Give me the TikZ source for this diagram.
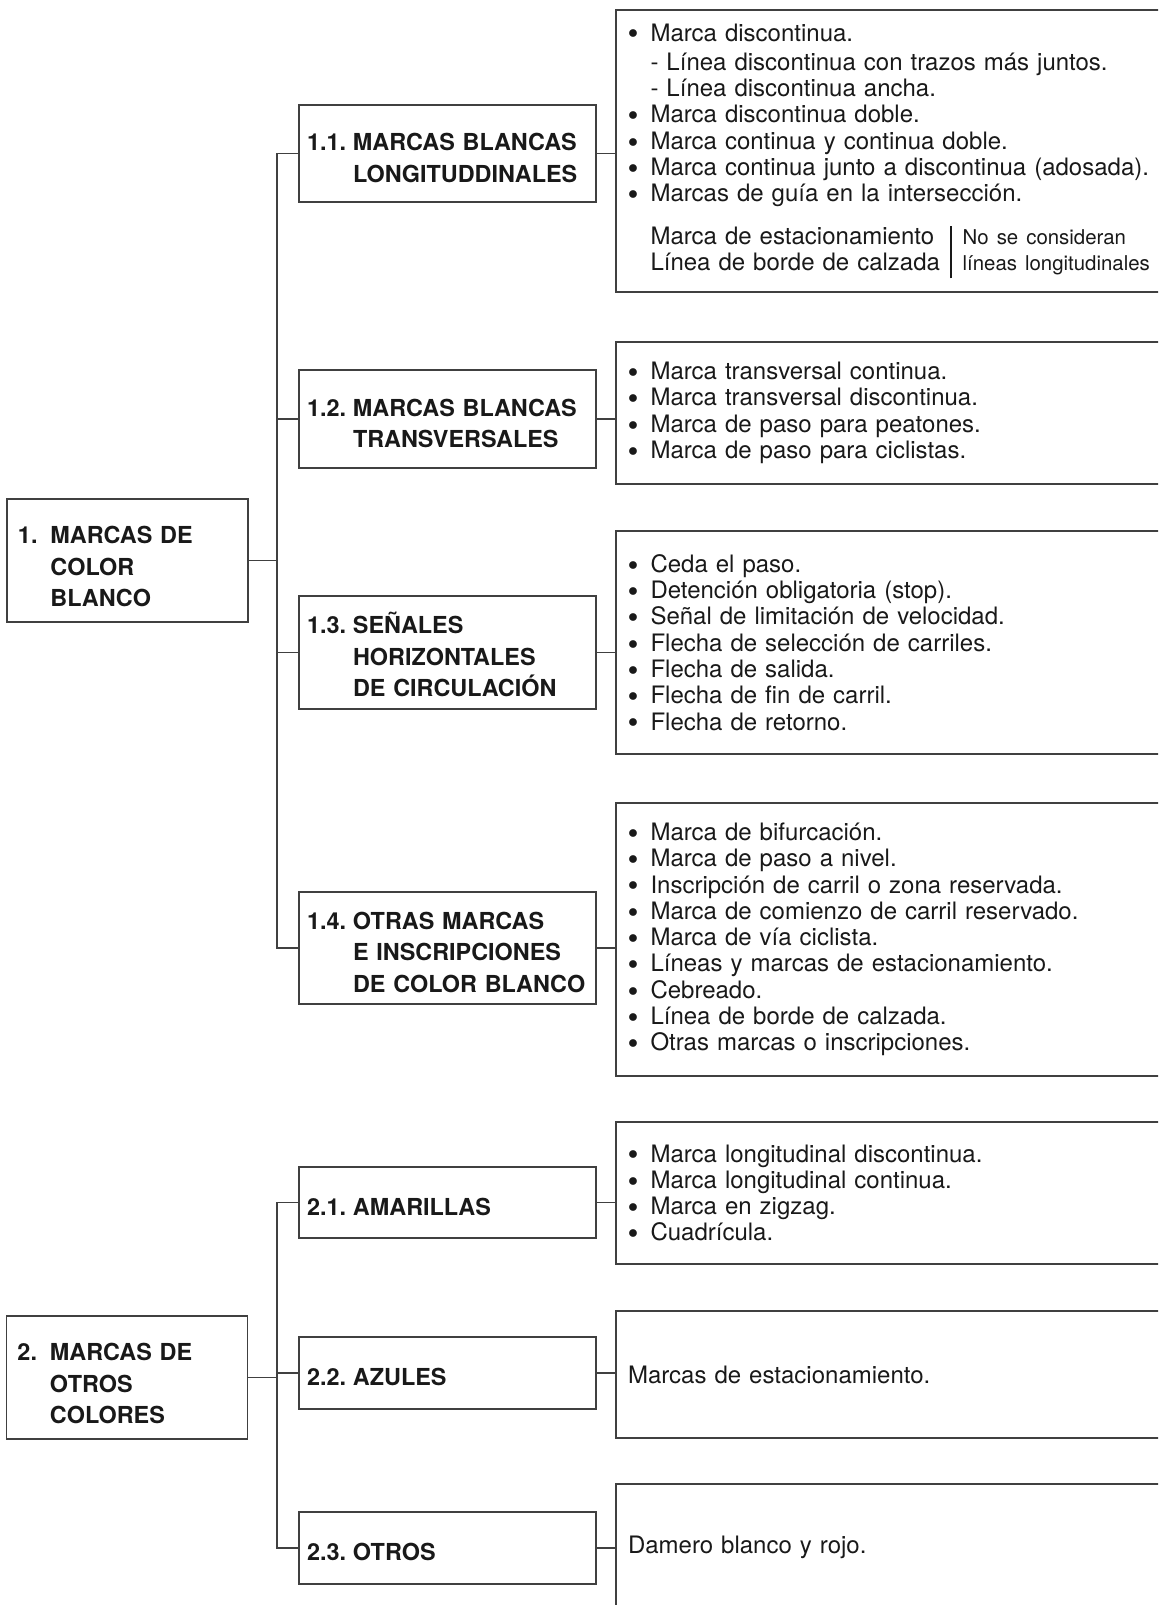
\documentclass[tikz,border=0pt]{standalone}
\usepackage{fontspec}
\setmainfont{TeX Gyre Heros}
\setlength{\arrayrulewidth}{0.7pt}
\newcommand{\hnum}[2]{\makebox[#1][l]{#2}}
\newcommand{\bul}{\makebox[11.25pt][l]{\raisebox{1.1pt}{\fontsize{10}{10}\selectfont$\bullet$}}}
\newcommand{\subind}{\hspace*{11.25pt}}
\newcommand{\smallnote}{\fontsize{10.2}{13.15}\selectfont}

\begin{document}
\begin{tikzpicture}[x=0.5pt, y=-0.5pt,
        basic/.style   = {draw=black!75, line width=0.6pt, rectangle, align=left, text=black!90, inner ysep=0pt},
        root/.style    = {basic, font=\bfseries\fontsize{11.7}{15.75}\selectfont, minimum width=120.5pt, text width=109.5pt, inner xsep=5.5pt,
                          execute at begin node={\rule{0pt}{15pt}}},
        level 2/.style = {basic, font=\bfseries\fontsize{11.7}{15.75}\selectfont, minimum width=148.5pt, text width=140.5pt, inner xsep=4pt,
                          execute at begin node={\rule{0pt}{13pt}}},
        level 3/.style = {basic, font=\fontsize{12}{13.15}\selectfont, minimum width=277pt, text width=265pt, inner xsep=6pt},
        link/.style    = {draw=black!75, line width=0.6pt}]

    \useasboundingbox (0,0) rectangle (1158,1605);
    \clip (0,0) rectangle (1158,1605);

    % roots
    \node[root, minimum height=61.5pt] (c1) at (127.5,560.5)
        {\hnum{16.25pt}{1.}MARCAS DE\\\hspace*{16.25pt}COLOR\\\hspace*{16.25pt}BLANCO};
    \node[root, minimum height=61.5pt] (c2) at (127,1377.5)
        {\hnum{16.25pt}{2.}MARCAS DE\\\hspace*{16.25pt}OTROS\\\hspace*{16.25pt}COLORES};

    % second level, white marks
    \node[level 2, minimum height=48.5pt] (c11) at (447.5,153.5)
        {\hnum{23pt}{1.1.}MARCAS BLANCAS\\\hspace*{23pt}LONGITUDDINALES};
    \node[level 2, minimum height=49pt] (c12) at (447.5,419)
        {\hnum{23pt}{1.2.}MARCAS BLANCAS\\\hspace*{23pt}TRANSVERSALES};
    \node[level 2, minimum height=56.5pt] (c13) at (447.5,652.5)
        {\hnum{23pt}{1.3.}SEÑALES\\\hspace*{23pt}HORIZONTALES\\\hspace*{23pt}DE CIRCULACIÓN};
    \node[level 2, minimum height=56pt] (c14) at (447.5,948)
        {\hnum{23pt}{1.4.}OTRAS MARCAS\\\hspace*{23pt}E INSCRIPCIONES\\\hspace*{23pt}DE COLOR BLANCO};

    % second level, other colours
    \node[level 2, minimum height=35.5pt, line width=1.2pt] (c21) at (447.5,1202.5) {\hnum{23pt}{2.1.}AMARILLAS};
    \node[level 2, minimum height=36pt] (c22) at (447.5,1373) {\hnum{23pt}{2.2.}AZULES};
    \node[level 2, minimum height=36pt] (c23) at (447.5,1548) {\hnum{23pt}{2.3.}OTROS};

    % third level, the lists
    \node[level 3, minimum height=141pt] (r11) at (893,151)
        {\bul Marca discontinua.\\[1.5pt]
         \subind- Línea discontinua con trazos más juntos.\\
         \subind- Línea discontinua ancha.\\
         \bul Marca discontinua doble.\\
         \bul Marca continua y continua doble.\\
         \bul Marca continua junto a discontinua (adosada).\\
         \bul Marcas de guía en la intersección.\\[8pt]
         \subind\begin{tabular}[t]{@{}l@{\hspace{5.5pt}}|@{\hspace{5.5pt}}l@{}}
           Marca de estacionamiento & \smallnote No se consideran\\
           Línea de borde de calzada & \smallnote líneas longitudinales
         \end{tabular}};
    \node[level 3, minimum height=71pt] (r12) at (893,413)
        {\bul Marca transversal continua.\\
         \bul Marca transversal discontinua.\\
         \bul Marca de paso para peatones.\\
         \bul Marca de paso para ciclistas.};
    \node[level 3, minimum height=111.5pt] (r13) at (893,642.5)
        {\bul Ceda el paso.\\
         \bul Detención obligatoria (stop).\\
         \bul Señal de limitación de velocidad.\\
         \bul Flecha de selección de carriles.\\
         \bul Flecha de salida.\\
         \bul Flecha de fin de carril.\\
         \bul Flecha de retorno.};
    \node[level 3, minimum height=136.5pt] (r14) at (893,939.5)
        {\bul Marca de bifurcación.\\
         \bul Marca de paso a nivel.\\
         \bul Inscripción de carril o zona reservada.\\
         \bul Marca de comienzo de carril reservado.\\
         \bul Marca de vía ciclista.\\
         \bul Líneas y marcas de estacionamiento.\\
         \bul Cebreado.\\
         \bul Línea de borde de calzada.\\
         \bul Otras marcas o inscripciones.};
    \node[level 3, minimum height=71pt] (r21) at (893,1193)
        {\bul Marca longitudinal discontinua.\\
         \bul Marca longitudinal continua.\\
         \bul Marca en zigzag.\\
         \bul Cuadrícula.};
    \node[level 3, minimum height=63.5pt] (r22) at (893,1374.5) {Marcas de estacionamiento.};
    \node[level 3, minimum height=63pt] (r23) at (893,1547) {Damero blanco y rojo.};

    % trunks from the roots to their children
    \coordinate (t1) at (277,560.5);
    \coordinate (t2) at (277,1377.5);
    \draw[link] (c1.east) -- (t1);
    \draw[link] (c2.east) -- (t2);

    \foreach \value in {1,2,3,4}
        \draw[link] (t1) |- (c1\value.west);

    \foreach \value in {1,2,3}
        \draw[link] (t2) |- (c2\value.west);

    % short lines to the lists
    \foreach \value in {1,2,3,4}
        \draw[link] (c1\value.east) -- (c1\value.east -| r1\value.west);

    \foreach \value in {1,2,3}
        \draw[link] (c2\value.east) -- (c2\value.east -| r2\value.west);

\end{tikzpicture}
\end{document}
